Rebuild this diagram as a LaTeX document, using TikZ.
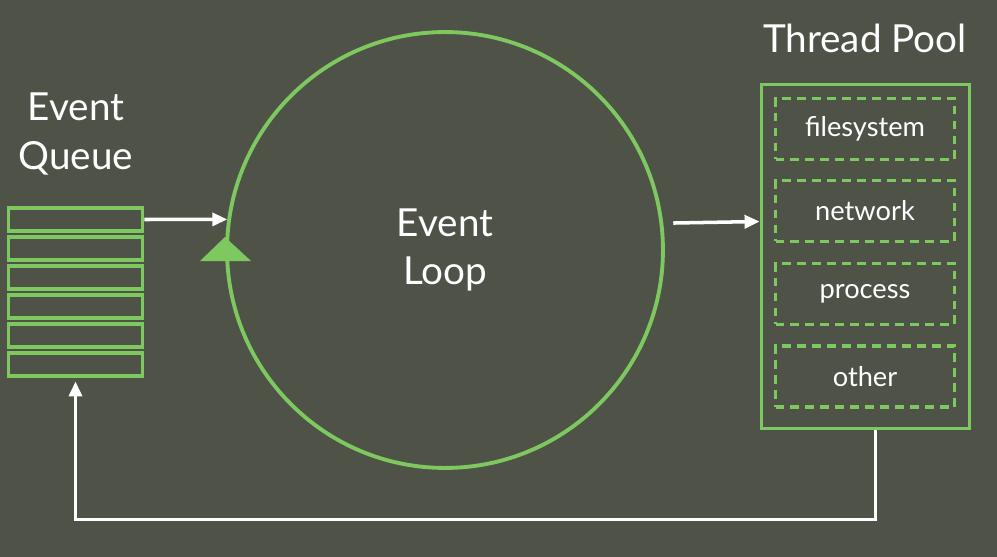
\documentclass[tikz,border=0pt]{standalone}
\usepackage{fontspec}
\setmainfont{Lato}
\usetikzlibrary{arrows.meta}
\definecolor{bg}{RGB}{79,83,71}
\definecolor{lgreen}{RGB}{126,200,96}
\tikzset{
  slot/.style={draw=lgreen,line width=2.2pt,minimum width=2.68cm,minimum height=0.46cm,inner sep=0},
  worker/.style={draw=lgreen,line width=2.2pt,dash pattern=on 5pt off 3.5pt,minimum width=3.58cm,minimum height=1.22cm,inner sep=0,text=white,font=\fontsize{15.5}{18}\selectfont},
  title/.style={text=white,align=center,font=\fontsize{22}{27.5}\selectfont},
  flow/.style={draw=white,line width=2pt,-{Triangle[length=0.3cm,width=0.26cm]}}
}

\begin{document}
\begin{tikzpicture}[x=0.02cm,y=-0.02cm]
\fill[bg] (0,0) rectangle (997,557);
\useasboundingbox (0,0) rectangle (997,557);
\node[title] (qlabel) at (76,134) {Event\\Queue};
\node[title] (plabel) at (865,38) {Thread Pool};
\foreach \i in {1,...,6}
  \node[slot] (q\i) at (75.5,{219.5+29*(\i-1)}) {};
\node[circle,draw=lgreen,line width=2.2pt,minimum size=8.72cm,inner sep=0,title] (loop) at (445,250) {Event\\Loop};
\fill[lgreen] (225,237) -- (200,261) -- (251,261) -- cycle;
\node[draw=lgreen,line width=2.2pt,minimum width=4.16cm,minimum height=6.88cm,inner sep=0] (pool) at (865.5,256.5) {};
\node[worker] (fs) at (865,129) {filesystem};
\node[worker] (net) at (865,211) {network};
\node[worker] (proc) at (865,294) {process};
\node[worker] (other) at (865,376.5) {other};
\draw[flow] (q1.east) -- (loop.172);
\draw[flow,shorten <=0.2cm] (loop.7) -- ([yshift=0.7cm]pool.west);
\draw[flow,shorten >=2pt] ([xshift=0.2cm]pool.south) -- ++(0,89) -| (q6.south);
\end{tikzpicture}
\end{document}
